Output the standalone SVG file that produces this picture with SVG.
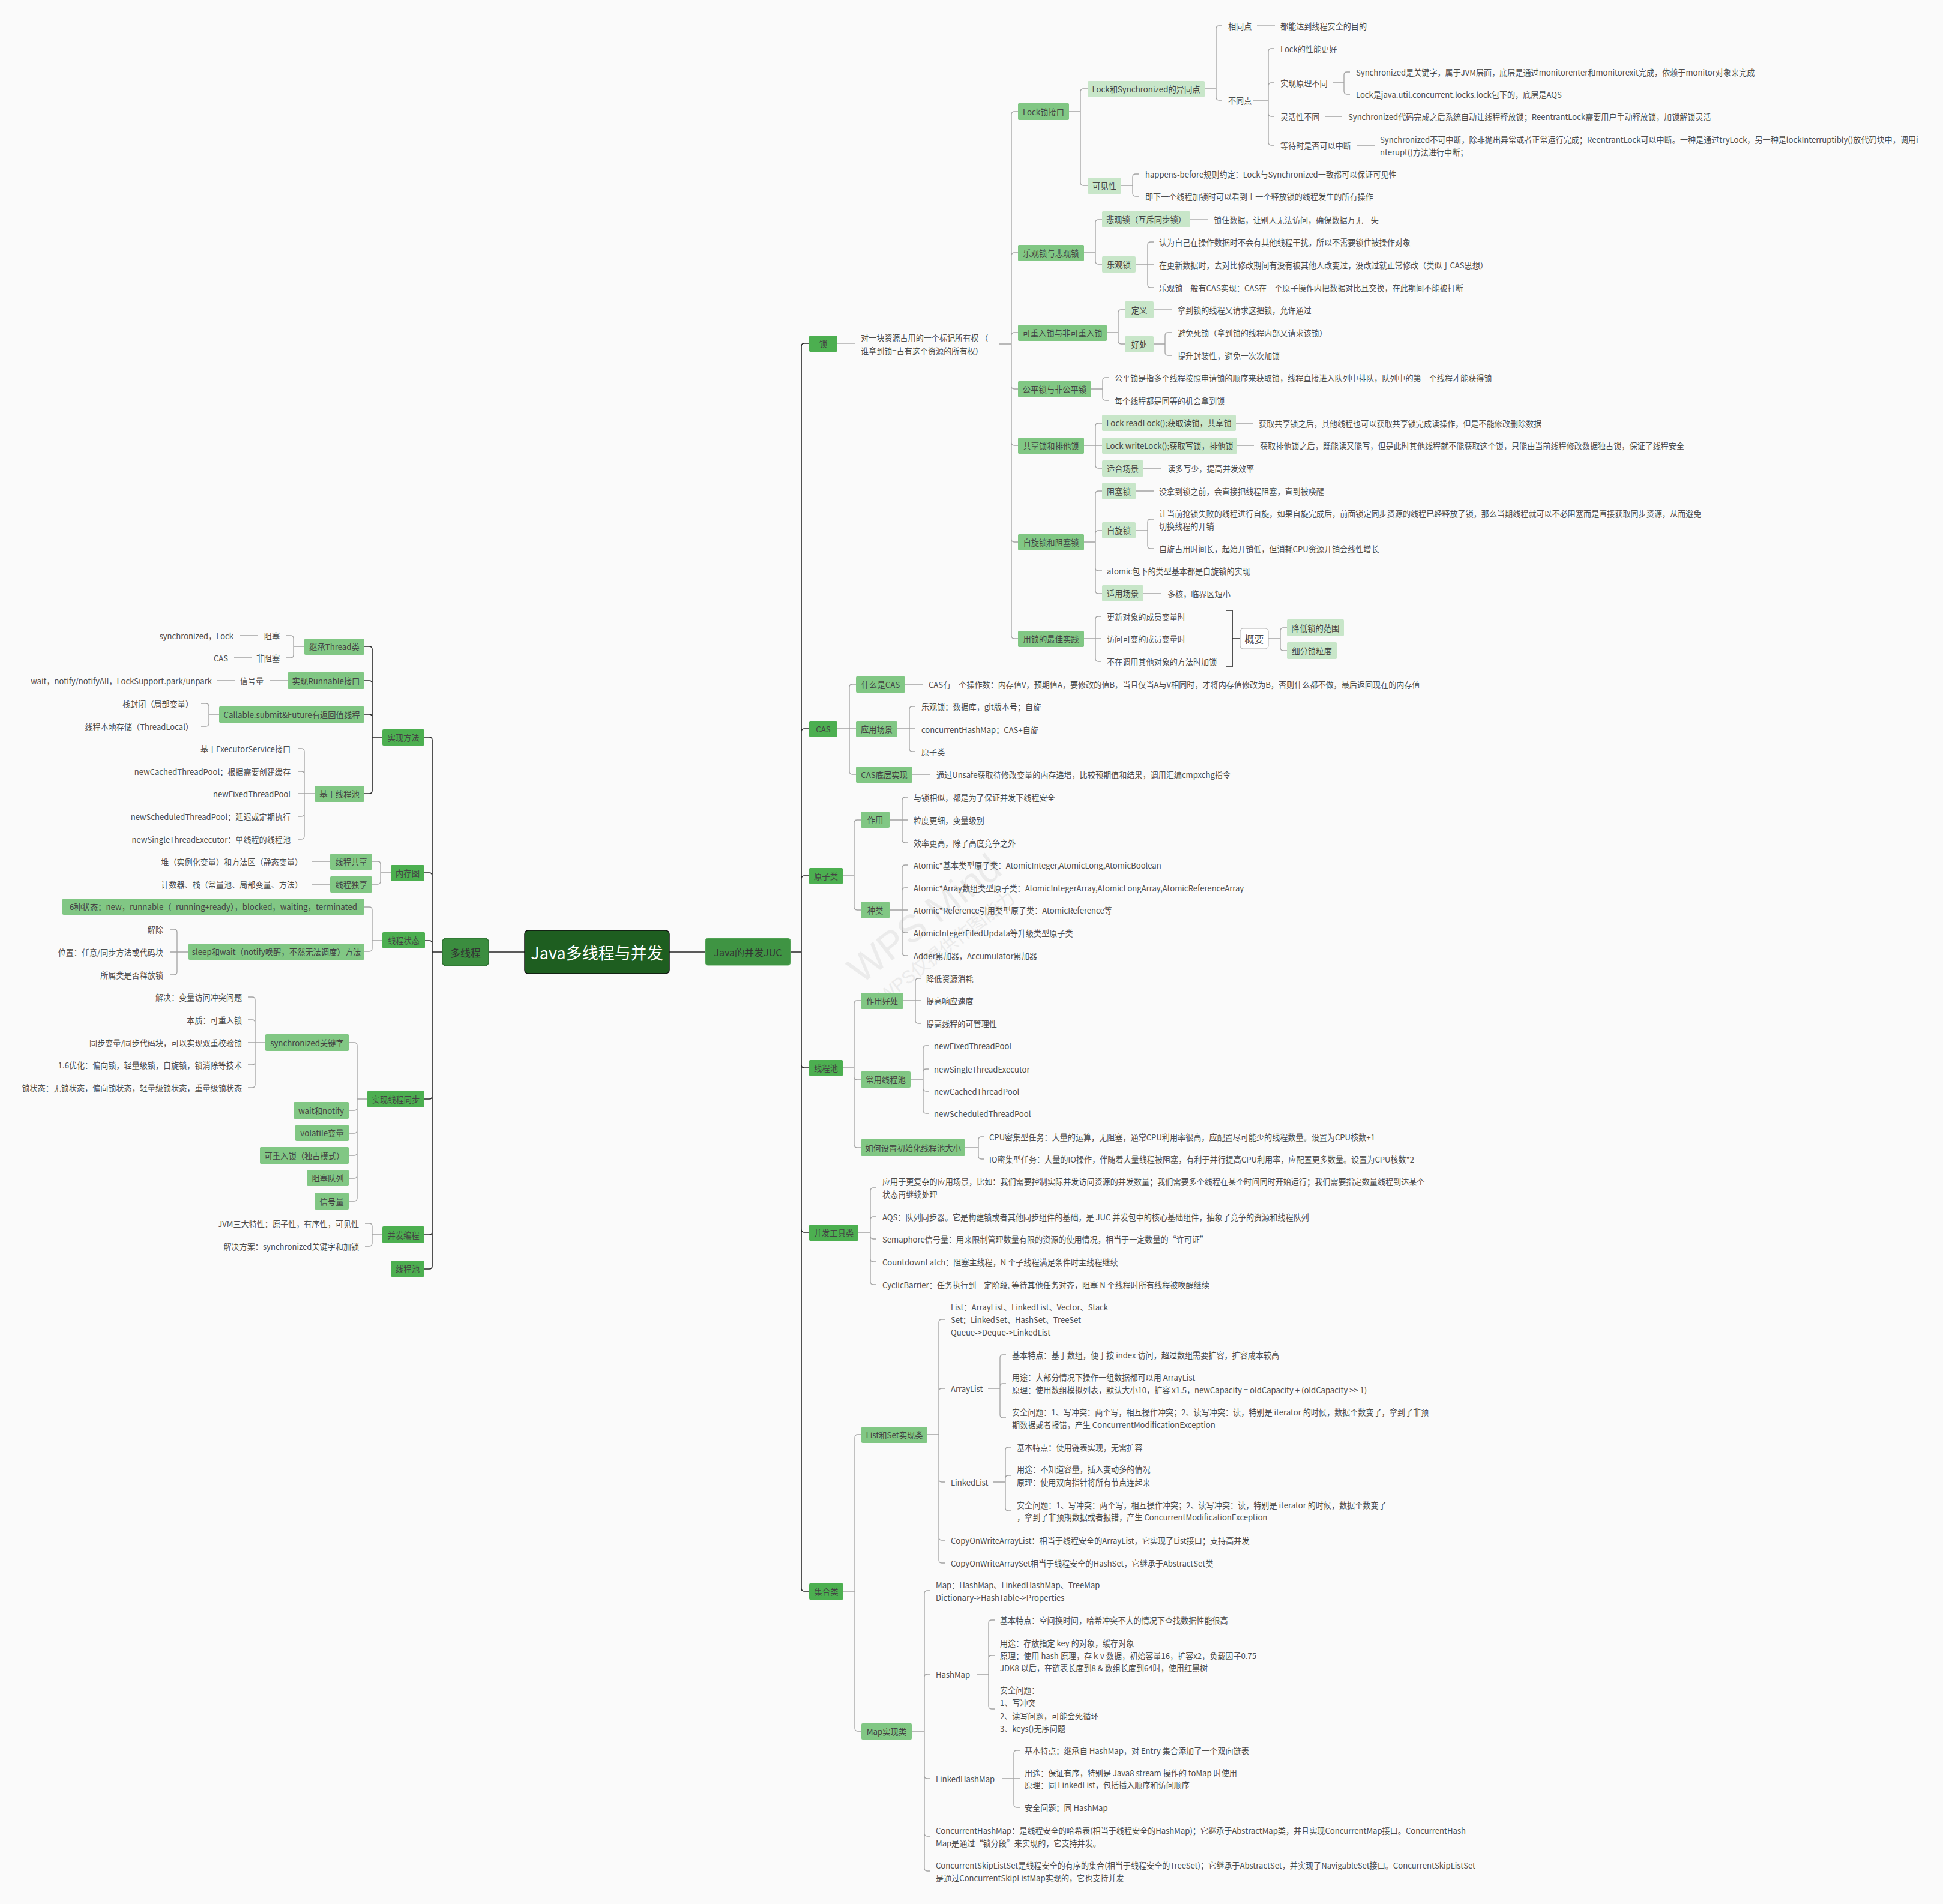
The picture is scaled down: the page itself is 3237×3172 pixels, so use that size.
<svg xmlns="http://www.w3.org/2000/svg" width="3237" height="3172" viewBox="0 0 3237 3172">
<style>
text{font-family:"Noto Sans CJK SC","Noto Sans",sans-serif;font-size:13.1px;fill:#4d4d4d;dominant-baseline:central}
.e{text-anchor:end}
.c{text-anchor:middle;fill:#444;font-size:13.3px}
.b1{fill:#4caf50}
.b2{fill:#81c784}
.b3{fill:#c8e6c9}
.k{fill:none;stroke:#a3a3a3;stroke-width:1.3}
.d{fill:none;stroke:#262626;stroke-width:1.6}
.wm{font-family:"Liberation Sans","Noto Sans CJK SC",sans-serif;fill:#ebebeb;text-anchor:middle}
</style>
<rect width="3237" height="3172" fill="#fafafa"/>
<g id="watermark" transform="rotate(-38 1540 1530)">
<text class="wm" x="1540" y="1530" style="font-size:64px">WPS Mind</text>
<text class="wm" x="1540" y="1590" style="font-size:30px">WPS仅提供作图能力</text>
</g>
<g id="connectors">
<path class="d" d="M874 1586H814 M1115 1586H1175"/>
<path class="d" d="M1317 1586H1335 M1335 1586V577Q1335 572 1340 572H1348 M1335 1586V1219Q1335 1214 1340 1214H1348 M1335 1586V1464Q1335 1459 1340 1459H1348 M1335 1586V1774Q1335 1779 1340 1779H1348 M1335 1586V2048Q1335 2053 1340 2053H1348 M1335 1586V2646Q1335 2651 1340 2651H1348"/>
<path class="d" d="M737 1586H720 M720 1586V1233Q720 1228 715 1228H707 M720 1586V1459Q720 1454 715 1454H707 M720 1586V1572Q720 1567 715 1567H708 M720 1586V1826Q720 1831 715 1831H707 M720 1586V2052Q720 2057 715 2057H707 M720 1586V2109Q720 2114 715 2114H707"/>
<path class="k" d="M1395 572H1425"/>
<path class="k" d="M1665 573H1685 M1685 573V191Q1685 186 1690 186H1696 M1685 573V426Q1685 421 1690 421H1696 M1685 573V559Q1685 554 1690 554H1696 M1685 573V643Q1685 648 1690 648H1696 M1685 573V737Q1685 742 1690 742H1696 M1685 573V898Q1685 903 1690 903H1696 M1685 573V1059Q1685 1064 1690 1064H1696"/>
<path class="k" d="M1781 186H1800 M1800 186V153Q1800 148 1805 148H1812 M1800 186V304Q1800 309 1805 309H1812"/>
<path class="k" d="M2007 148H2026 M2026 148V48Q2026 43 2031 43H2036 M2026 148V162Q2026 167 2031 167H2036"/>
<path class="k" d="M2094 43H2124"/>
<path class="k" d="M2088 167H2113 M2113 167V86Q2113 81 2118 81H2123 M2113 167V143Q2113 138 2118 138H2123 M2113 167V189Q2113 194 2118 194H2123 M2113 167V237Q2113 242 2118 242H2123"/>
<path class="k" d="M2220 138H2239 M2239 138V125Q2239 120 2244 120H2249 M2239 138V152Q2239 157 2244 157H2249"/>
<path class="k" d="M2207 194H2236 M2261 242H2290"/>
<path class="k" d="M1868 309H1887 M1887 309V295Q1887 290 1892 290H1898 M1887 309V322Q1887 327 1892 327H1898"/>
<path class="k" d="M1806 421H1825 M1825 421V371Q1825 366 1830 366H1836 M1825 421V435Q1825 440 1830 440H1836"/>
<path class="k" d="M1983 366H2012"/>
<path class="k" d="M1892 440H1912 M1912 440V408Q1912 403 1917 403H1922 M1912 441H1922 M1912 440V474Q1912 479 1917 479H1922"/>
<path class="k" d="M1844 554H1863 M1863 554V521Q1863 516 1868 516H1874 M1863 554V568Q1863 573 1868 573H1874"/>
<path class="k" d="M1922 516H1952"/>
<path class="k" d="M1922 573H1941 M1941 573V559Q1941 554 1946 554H1952 M1941 573V587Q1941 592 1946 592H1952"/>
<path class="k" d="M1818 648H1837 M1837 648V634Q1837 629 1842 629H1847 M1837 648V662Q1837 667 1842 667H1847"/>
<path class="k" d="M1806 742H1825 M1825 742V710Q1825 705 1830 705H1836 M1825 742H1836 M1825 742V775Q1825 780 1830 780H1836"/>
<path class="k" d="M2059 705H2087 M2061 742H2089 M1905 780H1935"/>
<path class="k" d="M1806 903H1825 M1825 903V823Q1825 818 1830 818H1836 M1825 903V889Q1825 884 1830 884H1836 M1825 903V946Q1825 951 1830 951H1836 M1825 903V984Q1825 989 1830 989H1836"/>
<path class="k" d="M1892 818H1922 M1905 989H1935"/>
<path class="k" d="M1892 884H1912 M1912 884V870Q1912 865 1917 865H1922 M1912 884V909Q1912 914 1917 914H1922"/>
<path class="k" d="M1806 1064H1825 M1825 1064V1032Q1825 1027 1830 1027H1835 M1825 1064H1835 M1825 1064V1097Q1825 1102 1830 1102H1835"/>
<path class="d" d="M2042 1017H2053V1111H2042 M2053 1064H2066"/>
<path class="k" d="M2113 1064H2133 M2133 1064V1051Q2133 1046 2138 1046H2144 M2133 1064V1079Q2133 1084 2138 1084H2144"/>
<path class="k" d="M1395 1214H1415 M1415 1214V1145Q1415 1140 1420 1140H1426 M1415 1214H1426 M1415 1214V1285Q1415 1290 1420 1290H1426"/>
<path class="k" d="M1508 1140H1537 M1520 1290H1550"/>
<path class="k" d="M1495 1214H1515 M1515 1214V1182Q1515 1177 1520 1177H1525 M1515 1214H1525 M1515 1214V1247Q1515 1252 1520 1252H1525"/>
<path class="k" d="M1404 1459H1423 M1423 1459V1371Q1423 1366 1428 1366H1434 M1423 1459V1511Q1423 1516 1428 1516H1434"/>
<path class="k" d="M1482 1366H1503 M1503 1366V1333Q1503 1328 1508 1328H1512 M1503 1366H1512 M1503 1366V1399Q1503 1404 1508 1404H1512"/>
<path class="k" d="M1482 1516H1503 M1503 1516V1446Q1503 1441 1508 1441H1512 M1503 1516V1484Q1503 1479 1508 1479H1512 M1503 1516H1512 M1503 1516V1549Q1503 1554 1508 1554H1512 M1503 1516V1587Q1503 1592 1508 1592H1512"/>
<path class="k" d="M1404 1779H1423 M1423 1779V1672Q1423 1667 1428 1667H1434 M1423 1779V1794Q1423 1799 1428 1799H1434 M1423 1779V1907Q1423 1912 1428 1912H1434"/>
<path class="k" d="M1505 1667H1525 M1525 1667V1635Q1525 1630 1530 1630H1535 M1525 1667H1535 M1525 1667V1700Q1525 1705 1530 1705H1535"/>
<path class="k" d="M1517 1799H1538 M1538 1799V1747Q1538 1742 1543 1742H1548 M1538 1799V1786Q1538 1781 1543 1781H1548 M1538 1799V1813Q1538 1818 1543 1818H1548 M1538 1799V1850Q1538 1855 1543 1855H1548"/>
<path class="k" d="M1608 1912H1630 M1630 1912V1899Q1630 1894 1635 1894H1640 M1630 1912V1926Q1630 1931 1635 1931H1640"/>
<path class="k" d="M1430 2053H1450 M1450 2053V1984Q1450 1979 1455 1979H1460 M1450 2053V2032Q1450 2027 1455 2027H1460 M1450 2053V2059Q1450 2064 1455 2064H1460 M1450 2053V2097Q1450 2102 1455 2102H1460 M1450 2053V2135Q1450 2140 1455 2140H1460"/>
<path class="k" d="M1405 2651H1424 M1424 2651V2395Q1424 2390 1429 2390H1435 M1424 2651V2879Q1424 2884 1429 2884H1435"/>
<path class="k" d="M1545 2390H1564 M1564 2390V2203Q1564 2198 1569 2198H1574 M1564 2390V2318Q1564 2313 1569 2313H1574 M1564 2390V2464Q1564 2469 1569 2469H1574 M1564 2390V2561Q1564 2566 1569 2566H1574 M1564 2390V2599Q1564 2604 1569 2604H1574"/>
<path class="k" d="M1646 2313H1666 M1666 2313V2262Q1666 2257 1671 2257H1676 M1666 2313V2310Q1666 2305 1671 2305H1676 M1666 2313V2357Q1666 2362 1671 2362H1676"/>
<path class="k" d="M1655 2469H1675 M1675 2469V2416Q1675 2411 1680 2411H1685 M1675 2469V2463Q1675 2458 1680 2458H1685 M1675 2469V2512Q1675 2517 1680 2517H1685"/>
<path class="k" d="M1519 2884H1540 M1540 2884V2655Q1540 2650 1545 2650H1550 M1540 2884V2794Q1540 2789 1545 2789H1550 M1540 2884V2958Q1540 2963 1545 2963H1550 M1540 2884V3054Q1540 3059 1545 3059H1550 M1540 2884V3112Q1540 3117 1545 3117H1550"/>
<path class="k" d="M1627 2789H1647 M1647 2789V2704Q1647 2699 1652 2699H1657 M1647 2789V2763Q1647 2758 1652 2758H1657 M1647 2789V2842Q1647 2847 1652 2847H1657"/>
<path class="k" d="M1669 2963H1689 M1689 2963V2921Q1689 2916 1694 2916H1699 M1689 2963H1699 M1689 2963V3006Q1689 3011 1694 3011H1699"/>
<path class="d" d="M637 1228H620 M620 1228V1082Q620 1077 615 1077H607 M620 1228V1139Q620 1134 615 1134H607 M620 1228V1195Q620 1190 615 1190H607 M620 1228V1317Q620 1322 615 1322H607"/>
<path class="k" d="M507 1077H489 M489 1077V1064Q489 1059 484 1059H477 M489 1077V1091Q489 1096 484 1096H477"/>
<path class="k" d="M429 1059H400 M420 1096H390 M479 1134H449 M392 1134H362"/>
<path class="k" d="M365 1190H348 M348 1190V1177Q348 1172 343 1172H335 M348 1190V1205Q348 1210 343 1210H335"/>
<path class="k" d="M524 1322H507 M507 1322V1252Q507 1247 502 1247H496 M507 1322V1290Q507 1285 502 1285H496 M507 1322H496 M507 1322V1355Q507 1360 502 1360H496 M507 1322V1393Q507 1398 502 1398H496"/>
<path class="k" d="M651 1454H634 M634 1454V1440Q634 1435 629 1435H620 M634 1454V1468Q634 1473 629 1473H620"/>
<path class="k" d="M550 1435H520 M550 1473H520"/>
<path class="k" d="M637 1567H620 M620 1567V1516Q620 1511 615 1511H607 M620 1567V1580Q620 1585 615 1585H607"/>
<path class="k" d="M314 1586H295 M295 1586V1553Q295 1548 290 1548H283 M295 1586H283 M295 1586V1619Q295 1624 290 1624H283"/>
<path class="k" d="M612 1831H595 M595 1831V1742Q595 1737 590 1737H581 M595 1831V1845Q595 1850 590 1850H581 M595 1831V1883Q595 1888 590 1888H581 M595 1831V1920Q595 1925 590 1925H581 M595 1831V1958Q595 1963 590 1963H581 M595 1831V1996Q595 2001 590 2001H581"/>
<path class="k" d="M442 1737H425 M425 1737V1666Q425 1661 420 1661H413 M425 1737V1704Q425 1699 420 1699H413 M425 1737H413 M425 1737V1769Q425 1774 420 1774H413 M425 1737V1807Q425 1812 420 1812H413"/>
<path class="k" d="M637 2057H620 M620 2057V2043Q620 2038 615 2038H608 M620 2057V2071Q620 2076 615 2076H608"/>
</g>
<g id="root"><rect x="874" y="1550" width="241" height="72" rx="6" fill="#1e5e20" stroke="#111" stroke-width="1.5"/><text class="c" x="994.5" y="1586" style="font-size:27px;fill:#fff">Java多线程与并发</text></g>
<g id="duoxiancheng"><rect x="737" y="1563" width="77" height="46" rx="6" fill="#3b8d3f" stroke="#2a6a2d" stroke-width="1.2"/><text class="c" x="775.5" y="1586" style="font-size:17px;fill:#333">多线程</text></g>
<g id="juc"><rect x="1175" y="1563" width="142" height="45" rx="5" fill="#3f9443" stroke="#62ad65" stroke-width="1.2"/><text class="c" x="1246" y="1585.5" style="font-size:16px;fill:#333">Java的并发JUC</text></g>
<g id="suo"><rect class="b1" x="1348" y="559" width="47" height="27" rx="2"/><text class="c" x="1371.5" y="572.5">锁</text></g>
<g id="cas"><rect class="b1" x="1348" y="1201" width="47" height="27" rx="2"/><text class="c" x="1371.5" y="1214.5">CAS</text></g>
<g id="yuanzilei"><rect class="b1" x="1348" y="1446" width="56" height="27" rx="2"/><text class="c" x="1376" y="1459.5">原子类</text></g>
<g id="xianchengchi-r"><rect class="b1" x="1348" y="1766" width="56" height="27" rx="2"/><text class="c" x="1376" y="1779.5">线程池</text></g>
<g id="bingfagongju"><rect class="b1" x="1348" y="2040" width="82" height="27" rx="2"/><text class="c" x="1389" y="2053.5">并发工具类</text></g>
<g id="jihelei"><rect class="b1" x="1348" y="2638" width="57" height="27" rx="2"/><text class="c" x="1376.5" y="2651.5">集合类</text></g>
<g id="suo-desc"><text x="1434" y="562">对一块资源占用的一个标记所有权 （<tspan x="1434" dy="22">谁拿到锁=占有这个资源的所有权）</tspan></text></g>
<g id="lockjiekou"><rect class="b2" x="1696" y="172" width="85" height="28" rx="2"/><text class="c" x="1738.5" y="186">Lock锁接口</text></g>
<g id="leguan-beiguan"><rect class="b2" x="1696" y="408" width="110" height="27" rx="2"/><text class="c" x="1751" y="421.5">乐观锁与悲观锁</text></g>
<g id="chongru"><rect class="b2" x="1696" y="541" width="148" height="27" rx="2"/><text class="c" x="1770" y="554.5">可重入锁与非可重入锁</text></g>
<g id="gongping"><rect class="b2" x="1696" y="635" width="122" height="27" rx="2"/><text class="c" x="1757" y="648.5">公平锁与非公平锁</text></g>
<g id="gongxiang"><rect class="b2" x="1696" y="729" width="110" height="27" rx="2"/><text class="c" x="1751" y="742.5">共享锁和排他锁</text></g>
<g id="zixuan-zuse"><rect class="b2" x="1696" y="890" width="110" height="27" rx="2"/><text class="c" x="1751" y="903.5">自旋锁和阻塞锁</text></g>
<g id="zuijia"><rect class="b2" x="1696" y="1051" width="110" height="27" rx="2"/><text class="c" x="1751" y="1064.5">用锁的最佳实践</text></g>
<g id="yitongdian"><rect class="b3" x="1812" y="135" width="195" height="27" rx="2"/><text class="c" x="1909.5" y="148.5">Lock和Synchronized的异同点</text></g>
<g id="kejianxing"><rect class="b3" x="1812" y="296" width="56" height="27" rx="2"/><text class="c" x="1840" y="309.5">可见性</text></g>
<g id="t-xiangtong"><text x="2046" y="43">相同点</text></g>
<g id="t-xiangtong-1"><text x="2133" y="43">都能达到线程安全的目的</text></g>
<g id="t-butong"><text x="2046" y="167">不同点</text></g>
<g id="t-bt1"><text x="2133" y="81">Lock的性能更好</text></g>
<g id="t-bt2"><text x="2133" y="138">实现原理不同</text></g>
<g id="t-bt2a"><text x="2259" y="120">Synchronized是关键字，属于JVM层面，底层是通过monitorenter和monitorexit完成，依赖于monitor对象来完成</text></g>
<g id="t-bt2b"><text x="2259" y="157">Lock是java.util.concurrent.locks.lock包下的，底层是AQS</text></g>
<g id="t-bt3"><text x="2133" y="194">灵活性不同</text></g>
<g id="t-bt3a"><text x="2246" y="194">Synchronized代码完成之后系统自动让线程释放锁；ReentrantLock需要用户手动释放锁，加锁解锁灵活</text></g>
<g id="t-bt4"><text x="2133" y="242">等待时是否可以中断</text></g>
<g id="t-bt4a"><text x="2299" y="232">Synchronized不可中断，除非抛出异常或者正常运行完成；ReentrantLock可以中断。一种是通过tryLock，另一种是lockInterruptibly()放代码块中，调用i<tspan x="2299" dy="21">nterupt()方法进行中断；</tspan></text></g>
<g id="t-kj1"><text x="1908" y="290">happens-before规则约定：Lock与Synchronized一致都可以保证可见性</text></g>
<g id="t-kj2"><text x="1908" y="327">即下一个线程加锁时可以看到上一个释放锁的线程发生的所有操作</text></g>
<g id="beiguansuo"><rect class="b3" x="1836" y="352" width="147" height="27" rx="2"/><text class="c" x="1909.5" y="365.5">悲观锁（互斥同步锁）</text></g>
<g id="t-bg1"><text x="2022" y="366">锁住数据，让别人无法访问，确保数据万无一失</text></g>
<g id="leguansuo"><rect class="b3" x="1836" y="427" width="56" height="27" rx="2"/><text class="c" x="1864" y="440.5">乐观锁</text></g>
<g id="t-lg1"><text x="1931" y="403">认为自己在操作数据时不会有其他线程干扰，所以不需要锁住被操作对象</text></g>
<g id="t-lg2"><text x="1931" y="441">在更新数据时，去对比修改期间有没有被其他人改变过，没改过就正常修改（类似于CAS思想）</text></g>
<g id="t-lg3"><text x="1931" y="479">乐观锁一般有CAS实现：CAS在一个原子操作内把数据对比且交换，在此期间不能被打断</text></g>
<g id="dingyi"><rect class="b3" x="1874" y="502" width="48" height="28" rx="2"/><text class="c" x="1898" y="516">定义</text></g>
<g id="t-dy"><text x="1962" y="516">拿到锁的线程又请求这把锁，允许通过</text></g>
<g id="haochu"><rect class="b3" x="1874" y="560" width="48" height="27" rx="2"/><text class="c" x="1898" y="573.5">好处</text></g>
<g id="t-hc1"><text x="1962" y="554">避免死锁（拿到锁的线程内部又请求该锁）</text></g>
<g id="t-hc2"><text x="1962" y="592">提升封装性，避免一次次加锁</text></g>
<g id="t-gp1"><text x="1857" y="629">公平锁是指多个线程按照申请锁的顺序来获取锁，线程直接进入队列中排队，队列中的第一个线程才能获得锁</text></g>
<g id="t-gp2"><text x="1857" y="667">每个线程都是同等的机会拿到锁</text></g>
<g id="readlock"><rect class="b3" x="1836" y="691" width="223" height="27" rx="2"/><text class="c" x="1947.5" y="704.5">Lock readLock();获取读锁，共享锁</text></g>
<g id="t-rl"><text x="2097" y="705">获取共享锁之后，其他线程也可以获取共享锁完成读操作，但是不能修改删除数据</text></g>
<g id="writelock"><rect class="b3" x="1836" y="729" width="225" height="27" rx="2"/><text class="c" x="1948.5" y="742.5">Lock writeLock();获取写锁，排他锁</text></g>
<g id="t-wl"><text x="2099" y="742">获取排他锁之后，既能读又能写，但是此时其他线程就不能获取这个锁，只能由当前线程修改数据独占锁，保证了线程安全</text></g>
<g id="shihechangjing"><rect class="b3" x="1836" y="767" width="69" height="27" rx="2"/><text class="c" x="1870.5" y="780.5">适合场景</text></g>
<g id="t-shcj"><text x="1945" y="780">读多写少，提高并发效率</text></g>
<g id="zusesuo"><rect class="b3" x="1836" y="804" width="56" height="28" rx="2"/><text class="c" x="1864" y="818">阻塞锁</text></g>
<g id="t-zs"><text x="1931" y="818">没拿到锁之前，会直接把线程阻塞，直到被唤醒</text></g>
<g id="zixuansuo"><rect class="b3" x="1836" y="870" width="56" height="27" rx="2"/><text class="c" x="1864" y="883.5">自旋锁</text></g>
<g id="t-zx1"><text x="1931" y="855">让当前抢锁失败的线程进行自旋，如果自旋完成后，前面锁定同步资源的线程已经释放了锁，那么当期线程就可以不必阻塞而是直接获取同步资源，从而避免<tspan x="1931" dy="21">切换线程的开销</tspan></text></g>
<g id="t-zx2"><text x="1931" y="914">自旋占用时间长，起始开销低，但消耗CPU资源开销会线性增长</text></g>
<g id="t-atomic"><text x="1844" y="951">atomic包下的类型基本都是自旋锁的实现</text></g>
<g id="shiyongchangjing"><rect class="b3" x="1836" y="975" width="69" height="27" rx="2"/><text class="c" x="1870.5" y="988.5">适用场景</text></g>
<g id="t-sycj"><text x="1945" y="989">多核，临界区短小</text></g>
<g id="t-zj1"><text x="1844" y="1027">更新对象的成员变量时</text></g>
<g id="t-zj2"><text x="1844" y="1064">访问可变的成员变量时</text></g>
<g id="t-zj3"><text x="1844" y="1102">不在调用其他对象的方法时加锁</text></g>
<g id="gaiyao"><rect x="2066" y="1047" width="47" height="34" rx="5" fill="#fff" stroke="#b0b0b0" stroke-width="1"/><text class="c" x="2089.5" y="1064" style="font-size:16px">概要</text></g>
<g id="jiangdi"><rect class="b3" x="2144" y="1032" width="95" height="28" rx="2"/><text class="c" x="2191.5" y="1046">降低锁的范围</text></g>
<g id="xifen"><rect class="b3" x="2144" y="1070" width="83" height="28" rx="2"/><text class="c" x="2185.5" y="1084">细分锁粒度</text></g>
<g id="shenmeshicas"><rect class="b2" x="1426" y="1127" width="82" height="27" rx="2"/><text class="c" x="1467" y="1140.5">什么是CAS</text></g>
<g id="t-cas1"><text x="1547" y="1140">CAS有三个操作数：内存值V，预期值A，要修改的值B，当且仅当A与V相同时，才将内存值修改为B，否则什么都不做，最后返回现在的内存值</text></g>
<g id="yingyongchangjing"><rect class="b2" x="1426" y="1201" width="69" height="27" rx="2"/><text class="c" x="1460.5" y="1214.5">应用场景</text></g>
<g id="t-yy1"><text x="1535" y="1177">乐观锁：数据库，git版本号；自旋</text></g>
<g id="t-yy2"><text x="1535" y="1215">concurrentHashMap：CAS+自旋</text></g>
<g id="t-yy3"><text x="1535" y="1252">原子类</text></g>
<g id="casdiceng"><rect class="b2" x="1426" y="1277" width="94" height="27" rx="2"/><text class="c" x="1473" y="1290.5">CAS底层实现</text></g>
<g id="t-dc"><text x="1560" y="1290">通过Unsafe获取待修改变量的内存递增，比较预期值和结果，调用汇编cmpxchg指令</text></g>
<g id="zuoyong"><rect class="b2" x="1434" y="1352" width="48" height="27" rx="2"/><text class="c" x="1458" y="1365.5">作用</text></g>
<g id="t-zy1"><text x="1522" y="1328">与锁相似，都是为了保证并发下线程安全</text></g>
<g id="t-zy2"><text x="1522" y="1366">粒度更细，变量级别</text></g>
<g id="t-zy3"><text x="1522" y="1404">效率更高，除了高度竞争之外</text></g>
<g id="zhonglei"><rect class="b2" x="1434" y="1502" width="48" height="28" rx="2"/><text class="c" x="1458" y="1516">种类</text></g>
<g id="t-zl1"><text x="1522" y="1441">Atomic*基本类型原子类：AtomicInteger,AtomicLong,AtomicBoolean</text></g>
<g id="t-zl2"><text x="1522" y="1479">Atomic*Array数组类型原子类：AtomicIntegerArray,AtomicLongArray,AtomicReferenceArray</text></g>
<g id="t-zl3"><text x="1522" y="1516">Atomic*Reference引用类型原子类：AtomicReference等</text></g>
<g id="t-zl4"><text x="1522" y="1554">AtomicIntegerFiledUpdata等升级类型原子类</text></g>
<g id="t-zl5"><text x="1522" y="1592">Adder累加器，Accumulator累加器</text></g>
<g id="zuoyonghaochu"><rect class="b2" x="1434" y="1654" width="71" height="27" rx="2"/><text class="c" x="1469.5" y="1667.5">作用好处</text></g>
<g id="t-hc-1"><text x="1543" y="1630">降低资源消耗</text></g>
<g id="t-hc-2"><text x="1543" y="1667">提高响应速度</text></g>
<g id="t-hc-3"><text x="1543" y="1705">提高线程的可管理性</text></g>
<g id="changyong"><rect class="b2" x="1434" y="1785" width="83" height="27" rx="2"/><text class="c" x="1475.5" y="1798.5">常用线程池</text></g>
<g id="t-cy1"><text x="1556" y="1742">newFixedThreadPool</text></g>
<g id="t-cy2"><text x="1556" y="1781">newSingleThreadExecutor</text></g>
<g id="t-cy3"><text x="1556" y="1818">newCachedThreadPool</text></g>
<g id="t-cy4"><text x="1556" y="1855">newScheduledThreadPool</text></g>
<g id="ruheshezhi"><rect class="b2" x="1434" y="1898" width="174" height="28" rx="2"/><text class="c" x="1521" y="1912">如何设置初始化线程池大小</text></g>
<g id="t-rh1"><text x="1648" y="1894">CPU密集型任务：大量的运算，无阻塞，通常CPU利用率很高，应配置尽可能少的线程数量。设置为CPU核数+1</text></g>
<g id="t-rh2"><text x="1648" y="1931">IO密集型任务：大量的IO操作，伴随着大量线程被阻塞，有利于并行提高CPU利用率，应配置更多数量。设置为CPU核数*2</text></g>
<g id="t-gj1"><text x="1470" y="1968">应用于更复杂的应用场景，比如：我们需要控制实际并发访问资源的并发数量；我们需要多个线程在某个时间同时开始运行；我们需要指定数量线程到达某个<tspan x="1470" dy="21">状态再继续处理</tspan></text></g>
<g id="t-gj2"><text x="1470" y="2027">AQS：队列同步器。它是构建锁或者其他同步组件的基础，是 JUC 并发包中的核心基础组件，抽象了竞争的资源和线程队列</text></g>
<g id="t-gj3"><text x="1470" y="2064">Semaphore信号量：用来限制管理数量有限的资源的使用情况，相当于一定数量的“许可证”</text></g>
<g id="t-gj4"><text x="1470" y="2102">CountdownLatch：阻塞主线程，N 个子线程满足条件时主线程继续</text></g>
<g id="t-gj5"><text x="1470" y="2140">CyclicBarrier：任务执行到一定阶段, 等待其他任务对齐，阻塞 N 个线程时所有线程被唤醒继续</text></g>
<g id="listset"><rect class="b2" x="1435" y="2377" width="110" height="27" rx="2"/><text class="c" x="1490" y="2390.5">List和Set实现类</text></g>
<g id="t-ls0"><text x="1584" y="2177">List：ArrayList、LinkedList、Vector、Stack<tspan x="1584" dy="21">Set：LinkedSet、HashSet、TreeSet</tspan><tspan x="1584" dy="21">Queue-&gt;Deque-&gt;LinkedList</tspan></text></g>
<g id="t-arraylist"><text x="1584" y="2313">ArrayList</text></g>
<g id="t-al1"><text x="1686" y="2257">基本特点：基于数组，便于按 index 访问，超过数组需要扩容，扩容成本较高</text></g>
<g id="t-al2"><text x="1686" y="2294">用途：大部分情况下操作一组数据都可以用 ArrayList<tspan x="1686" dy="21">原理：使用数组模拟列表，默认大小10，扩容 x1.5，newCapacity = oldCapacity + (oldCapacity &gt;&gt; 1)</tspan></text></g>
<g id="t-al3"><text x="1686" y="2352">安全问题：1、写冲突：两个写，相互操作冲突；2、读写冲突：读，特别是 iterator 的时候，数据个数变了，拿到了非预<tspan x="1686" dy="21">期数据或者报错，产生 ConcurrentModificationException</tspan></text></g>
<g id="t-linkedlist"><text x="1584" y="2469">LinkedList</text></g>
<g id="t-ll1"><text x="1694" y="2411">基本特点：使用链表实现，无需扩容</text></g>
<g id="t-ll2"><text x="1694" y="2447">用途：不知道容量，插入变动多的情况<tspan x="1694" dy="22">原理：使用双向指针将所有节点连起来</tspan></text></g>
<g id="t-ll3"><text x="1694" y="2507">安全问题：1、写冲突：两个写，相互操作冲突；2、读写冲突：读，特别是 iterator 的时候，数据个数变了<tspan x="1694" dy="20">，拿到了非预期数据或者报错，产生 ConcurrentModificationException</tspan></text></g>
<g id="t-cowal"><text x="1584" y="2566">CopyOnWriteArrayList：相当于线程安全的ArrayList，它实现了List接口；支持高并发</text></g>
<g id="t-cowas"><text x="1584" y="2604">CopyOnWriteArraySet相当于线程安全的HashSet，它继承于AbstractSet类</text></g>
<g id="mapshixian"><rect class="b2" x="1435" y="2871" width="84" height="27" rx="2"/><text class="c" x="1477" y="2884.5">Map实现类</text></g>
<g id="t-map0"><text x="1559" y="2640">Map：HashMap、LinkedHashMap、TreeMap<tspan x="1559" dy="21">Dictionary-&gt;HashTable-&gt;Properties</tspan></text></g>
<g id="t-hashmap"><text x="1559" y="2789">HashMap</text></g>
<g id="t-hm1"><text x="1666" y="2699">基本特点：空间换时间，哈希冲突不大的情况下查找数据性能很高</text></g>
<g id="t-hm2"><text x="1666" y="2737">用途：存放指定 key 的对象，缓存对象<tspan x="1666" dy="21">原理：使用 hash 原理，存 k-v 数据，初始容量16，扩容x2，负载因子0.75</tspan><tspan x="1666" dy="20">JDK8 以后，在链表长度到8 &amp; 数组长度到64时，使用红黑树</tspan></text></g>
<g id="t-hm3"><text x="1666" y="2815">安全问题：<tspan x="1666" dy="21">1、写冲突</tspan><tspan x="1666" dy="22">2、读写问题，可能会死循环</tspan><tspan x="1666" dy="21">3、keys()无序问题</tspan></text></g>
<g id="t-lhm"><text x="1559" y="2963">LinkedHashMap</text></g>
<g id="t-lhm1"><text x="1707" y="2916">基本特点：继承自 HashMap，对 Entry 集合添加了一个双向链表</text></g>
<g id="t-lhm2"><text x="1707" y="2953">用途：保证有序，特别是 Java8 stream 操作的 toMap 时使用<tspan x="1707" dy="20">原理：同 LinkedList，包括插入顺序和访问顺序</tspan></text></g>
<g id="t-lhm3"><text x="1707" y="3011">安全问题：同 HashMap</text></g>
<g id="t-chm"><text x="1559" y="3049">ConcurrentHashMap：是线程安全的哈希表(相当于线程安全的HashMap)；它继承于AbstractMap类，并且实现ConcurrentMap接口。ConcurrentHash<tspan x="1559" dy="21">Map是通过“锁分段”来实现的，它支持并发。</tspan></text></g>
<g id="t-csls"><text x="1559" y="3107">ConcurrentSkipListSet是线程安全的有序的集合(相当于线程安全的TreeSet)；它继承于AbstractSet，并实现了NavigableSet接口。ConcurrentSkipListSet<tspan x="1559" dy="21">是通过ConcurrentSkipListMap实现的，它也支持并发</tspan></text></g>
<g id="shixianfangfa"><rect class="b1" x="637" y="1215" width="70" height="27" rx="2"/><text class="c" x="672" y="1228.5">实现方法</text></g>
<g id="neicuntu"><rect class="b1" x="651" y="1441" width="56" height="27" rx="2"/><text class="c" x="679" y="1454.5">内存图</text></g>
<g id="xianchengzhuangtai"><rect class="b1" x="637" y="1553" width="71" height="27" rx="2"/><text class="c" x="672.5" y="1566.5">线程状态</text></g>
<g id="xianchengtongbu"><rect class="b1" x="612" y="1817" width="95" height="28" rx="2"/><text class="c" x="659.5" y="1831">实现线程同步</text></g>
<g id="bingfabiancheng"><rect class="b1" x="637" y="2043" width="70" height="28" rx="2"/><text class="c" x="672" y="2057">并发编程</text></g>
<g id="xianchengchi-l"><rect class="b1" x="651" y="2100" width="56" height="27" rx="2"/><text class="c" x="679" y="2113.5">线程池</text></g>
<g id="jichengthread"><rect class="b2" x="507" y="1064" width="100" height="27" rx="2"/><text class="c" x="557" y="1077.5">继承Thread类</text></g>
<g id="t-zuse"><text class="e" x="466" y="1059">阻塞</text></g>
<g id="t-synclock"><text class="e" x="389" y="1059">synchronized，Lock</text></g>
<g id="t-feizuse"><text class="e" x="466" y="1096">非阻塞</text></g>
<g id="t-cas-l"><text class="e" x="380" y="1096">CAS</text></g>
<g id="runnable"><rect class="b2" x="479" y="1120" width="128" height="28" rx="2"/><text class="c" x="543" y="1134">实现Runnable接口</text></g>
<g id="t-xinhaoliang"><text class="e" x="439" y="1134">信号量</text></g>
<g id="t-waitnotify"><text class="e" x="353" y="1134">wait，notify/notifyAll，LockSupport.park/unpark</text></g>
<g id="callable"><rect class="b2" x="365" y="1177" width="242" height="27" rx="2"/><text class="c" x="486" y="1190.5">Callable.submit&amp;Future有返回值线程</text></g>
<g id="t-zhanfengbi"><text class="e" x="322" y="1172">栈封闭（局部变量）</text></g>
<g id="t-threadlocal"><text class="e" x="322" y="1210">线程本地存储（ThreadLocal）</text></g>
<g id="jiyuxianchengchi"><rect class="b2" x="524" y="1309" width="83" height="27" rx="2"/><text class="c" x="565.5" y="1322.5">基于线程池</text></g>
<g id="t-jy1"><text class="e" x="484" y="1247">基于ExecutorService接口</text></g>
<g id="t-jy2"><text class="e" x="484" y="1285">newCachedThreadPool：根据需要创建缓存</text></g>
<g id="t-jy3"><text class="e" x="484" y="1322">newFixedThreadPool</text></g>
<g id="t-jy4"><text class="e" x="484" y="1360">newScheduledThreadPool：延迟或定期执行</text></g>
<g id="t-jy5"><text class="e" x="484" y="1398">newSingleThreadExecutor：单线程的线程池</text></g>
<g id="gongxiang-l"><rect class="b2" x="550" y="1422" width="70" height="27" rx="2"/><text class="c" x="585" y="1435.5">线程共享</text></g>
<g id="t-dui"><text class="e" x="504" y="1435">堆（实例化变量）和方法区（静态变量）</text></g>
<g id="duxiang"><rect class="b2" x="550" y="1460" width="70" height="27" rx="2"/><text class="c" x="585" y="1473.5">线程独享</text></g>
<g id="t-jishuqi"><text class="e" x="504" y="1473">计数器、栈（常量池、局部变量、方法）</text></g>
<g id="liuzhong"><rect class="b2" x="104" y="1497" width="503" height="27" rx="2"/><text class="c" x="355.5" y="1510.5">6种状态：new，runnable（=running+ready），blocked，waiting，terminated</text></g>
<g id="sleepwait"><rect class="b2" x="314" y="1572" width="293" height="27" rx="2"/><text class="c" x="460.5" y="1585.5">sleep和wait（notify唤醒，不然无法调度）方法</text></g>
<g id="t-jiechu"><text class="e" x="272" y="1548">解除</text></g>
<g id="t-weizhi"><text class="e" x="272" y="1586">位置：任意/同步方法或代码块</text></g>
<g id="t-suoshu"><text class="e" x="272" y="1624">所属类是否释放锁</text></g>
<g id="syncguanjianzi"><rect class="b2" x="442" y="1723" width="139" height="28" rx="2"/><text class="c" x="511.5" y="1737">synchronized关键字</text></g>
<g id="t-sy1"><text class="e" x="403" y="1661">解决：变量访问冲突问题</text></g>
<g id="t-sy2"><text class="e" x="403" y="1699">本质：可重入锁</text></g>
<g id="t-sy3"><text class="e" x="403" y="1737">同步变量/同步代码块，可以实现双重校验锁</text></g>
<g id="t-sy4"><text class="e" x="403" y="1774">1.6优化：偏向锁，轻量级锁，自旋锁，锁消除等技术</text></g>
<g id="t-sy5"><text class="e" x="403" y="1812">锁状态：无锁状态，偏向锁状态，轻量级锁状态，重量级锁状态</text></g>
<g id="waitnotify-b"><rect class="b2" x="489" y="1836" width="92" height="28" rx="2"/><text class="c" x="535" y="1850">wait和notify</text></g>
<g id="volatile"><rect class="b2" x="492" y="1874" width="89" height="27" rx="2"/><text class="c" x="536.5" y="1887.5">volatile变量</text></g>
<g id="kechongrusuo"><rect class="b2" x="433" y="1911" width="148" height="28" rx="2"/><text class="c" x="507" y="1925">可重入锁（独占模式）</text></g>
<g id="zuseduilie"><rect class="b2" x="511" y="1949" width="70" height="27" rx="2"/><text class="c" x="546" y="1962.5">阻塞队列</text></g>
<g id="xinhaoliang-b"><rect class="b2" x="524" y="1987" width="57" height="28" rx="2"/><text class="c" x="552.5" y="2001">信号量</text></g>
<g id="t-jvm"><text class="e" x="598" y="2038">JVM三大特性：原子性，有序性，可见性</text></g>
<g id="t-jiejue"><text class="e" x="598" y="2076">解决方案：synchronized关键字和加锁</text></g>
</svg>
